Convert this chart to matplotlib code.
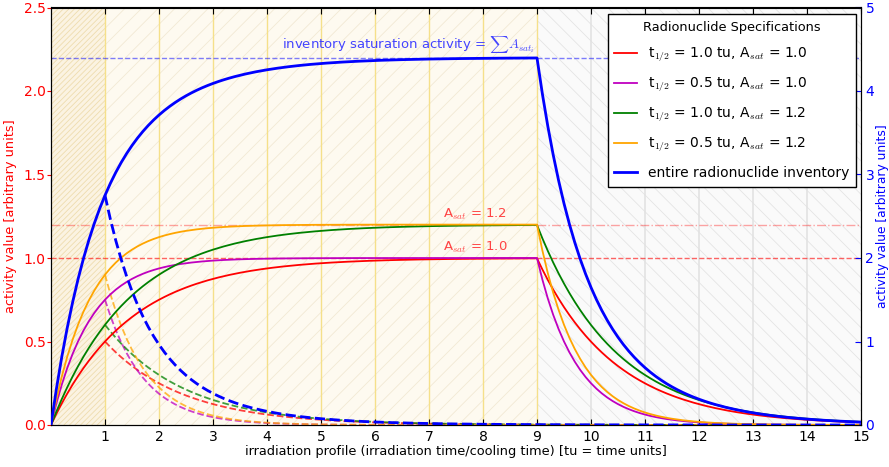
import matplotlib
matplotlib.use("Agg")
import matplotlib.pyplot as plt
import numpy as np

plt.rcParams['font.family'] = 'DejaVu Sans'
plt.rcParams['mathtext.fontset'] = 'cm'
plt.rcParams['hatch.linewidth'] = 0.6

# radionuclide parameters
half_lives = [1.0, 0.5, 1.0, 0.5]       # tu
sat_activities = [1.0, 1.0, 1.2, 1.2]   # arbitrary units
colors = ['red', 'm', 'g', 'orange']
labels = [r't$_{1/2}$ = 1.0 tu, A$_{sat}$ = 1.0',
          r't$_{1/2}$ = 0.5 tu, A$_{sat}$ = 1.0',
          r't$_{1/2}$ = 1.0 tu, A$_{sat}$ = 1.2',
          r't$_{1/2}$ = 0.5 tu, A$_{sat}$ = 1.2']

t_short = 1.0    # short irradiation (dashed decay curves)
t_irr = 9.0      # long irradiation end
t_end = 15.0

t_build = np.linspace(0, t_irr, 91)
t_cool = np.linspace(t_irr, t_end, 61)
t_short_cool = np.linspace(t_short, t_end, 141)

fig = plt.figure(figsize=(8.89, 4.67), dpi=100)
ax = fig.add_axes([51 / 889, 42 / 467, 810 / 889, 417.5 / 467])
ax2 = ax.twinx()

# background regions
ax.axvspan(0, t_short, facecolor='#fbf3e2', edgecolor='#eedcae', hatch='//////', lw=0, zorder=0)
ax.axvspan(t_short, t_irr, facecolor='#fefaf0', edgecolor='#f2e9d4', hatch='//', lw=0, zorder=0)
ax.axvspan(t_irr, t_end, facecolor='#fafafa', edgecolor='#e4e4e4', hatch='\\\\', lw=0, zorder=0)
for xv in range(1, 10):
    ax.axvline(xv, color='#f5e08a', lw=1.0, zorder=1)
for xv in range(10, 15):
    ax.axvline(xv, color='#e2e2e2', lw=1.2, zorder=1)

ax.axhline(1.0, color='red', ls='--', lw=1, alpha=0.6, zorder=2)
ax.axhline(1.2, color='red', ls='-.', lw=1, alpha=0.35, zorder=2)
ax.axhline(2.2, color='blue', ls='--', lw=1, alpha=0.5, zorder=2)

sum_build = np.zeros_like(t_build)
sum_cool = np.zeros_like(t_cool)
sum_short = np.zeros_like(t_short_cool)
for hl, a_sat, c, lab in zip(half_lives, sat_activities, colors, labels):
    lam = np.log(2) / hl
    build = a_sat * (1 - np.exp(-lam * t_build))
    cool = build[-1] * np.exp(-lam * (t_cool - t_irr))
    a_short = a_sat * (1 - np.exp(-lam * t_short))
    short = a_short * np.exp(-lam * (t_short_cool - t_short))
    ax.plot(np.r_[t_build, t_cool], np.r_[build, cool], color=c, lw=1.3, label=lab, zorder=4)
    ax.plot(t_short_cool, short, color=c, lw=1.3, ls='--', alpha=0.75, zorder=3)
    sum_build += build
    sum_cool += cool
    sum_short += short

ax2.plot(np.r_[t_build, t_cool], np.r_[sum_build, sum_cool], color='blue', lw=2,
         label='entire radionuclide inventory', zorder=5)
ax2.plot(t_short_cool, sum_short, color='blue', lw=2, ls='--', zorder=5)

ax.text(8.95, 2.215, r'inventory saturation activity = $\sum A_{sat_i}$', color='#4444ff',
        ha='right', va='bottom', fontsize=9.5)
ax.text(7.85, 1.215, r'A$_{sat}$ = 1.2', color='#ff4444', ha='center', va='bottom', fontsize=9.5)
ax.text(7.85, 1.015, r'A$_{sat}$ = 1.0', color='#ff4444', ha='center', va='bottom', fontsize=9.5)

ax.set_xlim(0, t_end)
ax.set_ylim(0, 2.5)
ax2.set_ylim(0, 5)
ax.set_xticks(np.arange(1, 16))
ax.set_yticks(np.arange(0, 2.51, 0.5))
ax2.set_yticks(np.arange(0, 6))
ax.tick_params(axis='x', direction='in', top=True, length=4, labelsize=10, colors='black')
ax.tick_params(axis='y', direction='out', length=3, pad=0.8, labelsize=10, labelcolor='red', color='red')
ax2.tick_params(axis='y', direction='in', length=4, pad=3.2, labelsize=10, labelcolor='blue', color='blue')

ax.set_xlabel('irradiation profile (irradiation time/cooling time) [tu = time units]', fontsize=9.3, labelpad=1)
ax.set_ylabel('activity value [arbitrary units]', color='red', fontsize=9.3, labelpad=5)
ax2.set_ylabel('activity value [arbitrary units]', color='blue', fontsize=8.8, labelpad=1.5)

h1, l1 = ax.get_legend_handles_labels()
h2, l2 = ax2.get_legend_handles_labels()
leg = ax2.legend(h1 + h2, l1 + l2, loc='upper right', title='Radionuclide Specifications',
                 fontsize=10, title_fontsize=9.3, fancybox=False, framealpha=1,
                 edgecolor='black', labelspacing=0.85, handlelength=1.6,
                 bbox_to_anchor=(0.994, 0.985), borderaxespad=0, borderpad=0.5)
leg.get_frame().set_linewidth(1.0)
leg.set_zorder(10)

fig.savefig('out.png', dpi=100, facecolor='white')
